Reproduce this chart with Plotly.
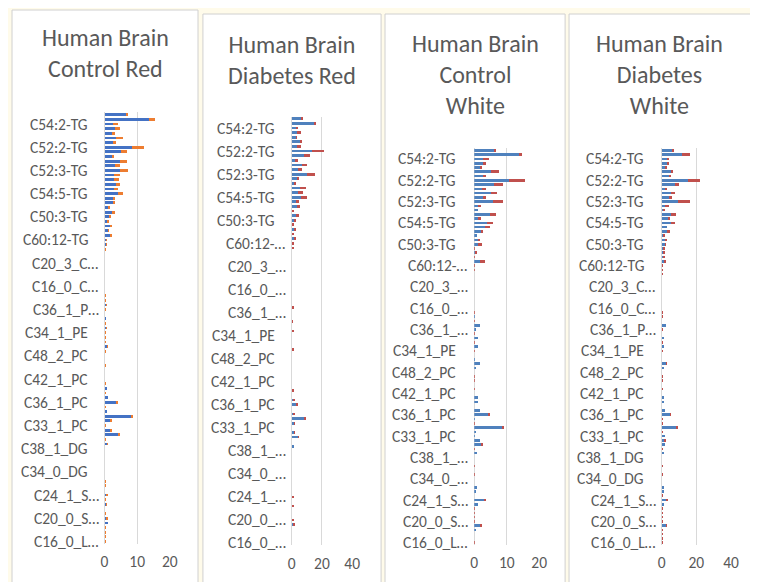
import plotly.graph_objects as go

W, H = 758, 582
OX, OY = 8, 8  # page offset of the figure inside the browser window
FONT = "Calibri, Carlito, Lato, sans-serif"
TXT = "#595959"
GRID = "#D9D9D9"

titles = ["Human Brain<br>Control Red", "Human Brain<br>Diabetes Red",
          "Human Brain<br>Control<br>White", "Human Brain<br>Diabetes<br>White"]

# tick labels, top to bottom (every 5th category is labelled)
labels_p1 = ["C54:2-TG", "C52:2-TG", "C52:3-TG", "C54:5-TG", "C50:3-TG", "C60:12-TG",
             "C20_3_C…", "C16_0_C…", "C36_1_P…", "C34_1_PE", "C48_2_PC", "C42_1_PC",
             "C36_1_PC", "C33_1_PC", "C38_1_DG", "C34_0_DG", "C24_1_S…", "C20_0_S…", "C16_0_L…"]
labels_p2 = ["C54:2-TG", "C52:2-TG", "C52:3-TG", "C54:5-TG", "C50:3-TG", "C60:12-…",
             "C20_3_…", "C16_0_…", "C36_1_…", "C34_1_PE", "C48_2_PC", "C42_1_PC",
             "C36_1_PC", "C33_1_PC", "C38_1_…", "C34_0_…", "C24_1_…", "C20_0_…", "C16_0_…"]
labels_p3 = ["C54:2-TG", "C52:2-TG", "C52:3-TG", "C54:5-TG", "C50:3-TG", "C60:12-…",
             "C20_3_…", "C16_0_…", "C36_1_…", "C34_1_PE", "C48_2_PC", "C42_1_PC",
             "C36_1_PC", "C33_1_PC", "C38_1_…", "C34_0_…", "C24_1_S…", "C20_0_S…", "C16_0_L…"]
labels_p4 = list(labels_p1)

# values, top category first (93 categories)
p1_blue = [6.5, 13.6, 2.5, 3.2, 2.4, 3.6, 2.5, 8.3, 5.1, 2.2,
           4.8, 3.3, 4.8, 3.0, 2.8, 3.5, 2.8, 4.1, 2.5, 2.5,
           1.0, 2.3, 1.3, 0.9, 1.6, 1.0, 1.6, 0.5, 0.5, 0,
           0, 0, 0, 0, 0, 0, 0, 0, 0, 0,
           0, 0.5, 0, 0, 0.3, 0, 0.5, 0, 0, 0,
           0.7, 0, 0, 0, 0, 0, 0, 0, 0, 0.5,
           0, 1.1, 3.4, 0, 0.9, 8.2, 1.7, 0, 1.7, 4.1,
           0, 0.7, 0, 0, 0, 0, 0, 0, 0, 0,
           0, 0, 0.6, 0, 0.5, 0, 0, 0.6, 1.2, 0,
           0, 0, 0]
p1_orange = [0.3, 2.0, 1.5, 1.4, 0.8, 2.1, 1.0, 3.7, 1.8, 0.7,
             2.0, 1.5, 2.4, 1.6, 1.5, 1.1, 1.2, 1.6, 0.7, 0.7,
             0.8, 0.9, 0.5, 0.6, 0.5, 0.2, 0.6, 0.1, 0.1, 0.3,
             0, 0, 0, 0, 0, 0, 0, 0, 0, 0.3,
             0.3, 0.1, 0.3, 0, 0, 0.3, 0.1, 0.3, 0.3, 0.3,
             0.2, 0.3, 0, 0, 0.3, 0, 0, 0, 0.3, 0,
             0.3, 0, 0.6, 0.3, 0, 0.6, 0.4, 0.3, 0.2, 0.3,
             0.3, 0.2, 0, 0, 0, 0, 0, 0, 0, 0.3,
             0.3, 0, 0.3, 0.3, 0.1, 0, 0.3, 0.3, 0, 0.3,
             0.3, 0.3, 0.3]

p2_blue = [6.5, 15.2, 3.3, 3.3, 2.8, 5.4, 3.3, 13.7, 8.0, 2.6,
           7.0, 4.3, 10.2, 3.3, 1.5, 5.4, 4.3, 5.9, 2.6, 3.7,
           0.65, 2.6, 1.5, 0.65, 1.5, 0.65, 1.5, 0, 0, 0,
           0, 0, 0, 0, 0, 0, 0, 0, 0, 0,
           0, 0, 0, 0, 0, 0, 0, 0, 0, 0,
           0, 0, 0, 0, 0, 0, 0, 0, 0, 0,
           0, 0.9, 3.3, 0, 1.1, 8.0, 1.5, 0, 1.5, 4.3,
           0, 0.9, 0, 0, 0, 0, 0, 0, 0, 0,
           0, 0, 0, 0, 0, 0, 0, 0, 0.8, 0,
           0, 0, 0]
p2_red = [0.65, 0.4, 0.6, 2.6, 0.4, 1.5, 2.6, 7.6, 3.9, 1.3,
          3.3, 2.6, 5.4, 1.7, 1.5, 4.3, 3.3, 4.3, 2.4, 1.7,
          1.1, 2.4, 1.1, 0.65, 1.5, 1.1, 1.3, 0.8, 0.8, 0,
          0, 0, 0, 0, 0, 0, 0, 0, 0, 0,
          0, 0.8, 0, 0, 0.6, 0, 0.8, 0, 0, 0,
          0.8, 0, 0, 0, 0, 0, 0, 0, 0, 0.8,
          0, 0.6, 0.6, 0, 0.4, 0.9, 0.4, 0, 0.4, 0.2,
          0, 0, 0, 0, 0, 0, 0, 0, 0, 0,
          0, 0, 0.8, 0, 0.8, 0, 0, 0.8, 0.6, 0,
          0, 0, 0]

p3_blue = [6.4, 13.7, 2.7, 2.7, 2.1, 5.0, 2.7, 10.6, 6.0, 2.4,
           5.0, 2.7, 5.8, 1.3, 1.1, 4.7, 1.1, 4.0, 3.2, 2.1,
           0.7, 1.3, 1.3, 0, 0.6, 0, 1.9, 0, 0, 0,
           0, 0, 0, 0, 0, 0, 0, 0, 0, 0.3,
           0, 1.7, 0.5, 0, 1.0, 0, 1.0, 0, 0, 0.2,
           1.7, 0.5, 0, 0, 0, 0, 0, 0, 1.0, 1.0,
           0, 1.9, 4.4, 0.3, 0, 8.8, 0.4, 0.3, 1.9, 2.4,
           0, 0.8, 0, 0, 0, 0, 0, 0, 0, 0.7,
           0.5, 0, 3.2, 1.1, 0, 0, 0, 0, 2.1, 0.5,
           0, 0, 0]
p3_red = [0.3, 1.1, 1.8, 0.8, 0.3, 2.5, 0.8, 5.0, 2.7, 1.2,
          1.9, 0.8, 2.9, 0.7, 0, 2.0, 0.9, 1.8, 1.7, 0.7,
          0, 0.4, 1.0, 0.3, 0.3, 0.3, 1.3, 0.3, 0.3, 0,
          0, 0, 0, 0, 0, 0, 0, 0, 0.3, 0,
          0.3, 0, 0, 0.3, 0, 0.3, 0, 0.3, 0, 0,
          0, 0, 0, 0.3, 0.3, 0, 0.3, 0, 0, 0,
          0, 0, 0.3, 0, 0.3, 0.3, 0, 0, 0, 0.3,
          0.3, 0, 0, 0, 0.3, 0, 0.3, 0, 0, 0,
          0, 0, 0.4, 0, 0.3, 0.3, 0.3, 0.3, 0.2, 0,
          0, 0, 0.3]

p4_blue = [5.8, 11.5, 3.4, 3.4, 2.1, 5.3, 4.0, 15.3, 7.7, 2.1,
           5.3, 4.0, 9.6, 2.1, 1.1, 5.3, 4.0, 5.3, 3.4, 3.0,
           1.1, 1.9, 1.9, 0.8, 1.1, 0.8, 1.7, 0, 0, 0,
           0, 0, 0, 0, 0, 0, 0, 0, 0, 0,
           0, 2.3, 0, 0, 1.1, 0, 0.9, 0, 0, 0,
           2.3, 0.8, 0, 0, 0, 0, 0, 0, 1.1, 1.1,
           0, 1.9, 4.7, 0, 0, 8.1, 0, 1.7, 1.5, 1.7,
           0, 1.1, 0, 0, 0, 0, 0, 0, 0, 0.8,
           0.8, 0, 2.8, 0.8, 0, 0, 0, 0, 2.3, 0,
           0, 0, 0]
p4_red = [1.1, 4.7, 0.8, 0.8, 0.4, 1.5, 1.5, 6.6, 2.5, 0.8,
          2.5, 2.1, 7.0, 1.9, 0.2, 3.0, 0.2, 2.5, 0, 1.9,
          0.2, 0.8, 0.2, 0.4, 0.6, 0.4, 0.4, 0.4, 0.4, 0.4,
          0, 0, 0, 0, 0, 0, 0, 0, 0.4, 0.4,
          0, 0, 0.4, 0, 0, 0.4, 0, 0.4, 0, 0,
          0.2, 0, 0, 0.4, 0.4, 0, 0.4, 0, 0, 0,
          0, 0, 0.4, 0.4, 0.4, 0.6, 0.4, 0, 0.9, 0,
          0.4, 0, 0, 0, 0.4, 0, 0.4, 0, 0, 0,
          0, 0.4, 0.6, 0, 0.4, 0.4, 0.4, 0.4, 0.4, 0.4,
          0.4, 0.4, 0.4]

# layout in window pixels (style only)
panels = [
    dict(blue=p1_blue, red=p1_orange, labels=labels_p1, cb="#4472C4", cr="#ED7D31",
         xmax=20, dtick=10, box=(8, 197, 10), xp=(102, 168.3), yp=(112.4, 543.8),
         ty=53, gap=15),
    dict(blue=p2_blue, red=p2_red, labels=labels_p2, cb="#4F81BD", cr="#C0504D",
         xmax=40, dtick=20, box=(202, 383, 14), xp=(292.2, 353.6), yp=(116.5, 545.3),
         ty=60, gap=15),
    dict(blue=p3_blue, red=p3_red, labels=labels_p3, cb="#4F81BD", cr="#C0504D",
         xmax=20, dtick=10, box=(387, 570, 14), xp=(477.7, 543.7), yp=(148.3, 544.8),
         ty=74, gap=16),
    dict(blue=p4_blue, red=p4_red, labels=labels_p4, cb="#4F81BD", cr="#C0504D",
         xmax=40, dtick=20, box=(574, 762, 14), xp=(668, 738.6), yp=(148.3, 544.8),
         ty=74, gap=16),
]


def px(x):
    return (x - OX) / W


def py(y):
    return 1 - (y - OY) / H


fig = go.Figure()
shapes, annotations = [], []
layout = {}
for i, p in enumerate(panels):
    sfx = "" if i == 0 else str(i + 1)
    n = len(p["blue"])
    pos = list(range(n))
    for vals, col in ((p["blue"], p["cb"]), (p["red"], p["cr"])):
        fig.add_trace(go.Bar(x=vals, y=pos, orientation="h", marker=dict(color=col, line=dict(width=0)),
                             xaxis="x" + sfx, yaxis="y" + sfx, showlegend=False, hoverinfo="skip"))
    x0, x1, top = p["box"]
    shapes.append(dict(type="rect", xref="paper", yref="paper", x0=px(x0), x1=px(x1),
                       y0=-0.1, y1=py(top), fillcolor="white",
                       line=dict(color="#D0D0D0", width=1), layer="below"))
    annotations.append(dict(text=titles[i], xref="paper", yref="paper", x=px((x0 + min(x1, 758)) / 2),
                            y=py(p["ty"]), xanchor="center", yanchor="middle", showarrow=False,
                            font=dict(family=FONT, size=24, color=TXT)))
    for k, lab in enumerate(p["labels"]):
        shift = -4 if lab.endswith("…") else -p["gap"]
        annotations.append(dict(text=lab, xref="x" + sfx + " domain", yref="y" + sfx, x=0, y=2 + 5 * k,
                                xanchor="right", yanchor="middle", xshift=shift, showarrow=False,
                                font=dict(family=FONT, size=15.5, color=TXT)))
    layout["xaxis" + sfx] = dict(domain=[px(p["xp"][0]), px(p["xp"][1])], range=[0, p["xmax"]],
                                 tickvals=list(range(0, p["xmax"] + 1, p["dtick"])),
                                 showgrid=True, gridcolor=GRID, gridwidth=1,
                                 zeroline=True, zerolinecolor=GRID, zerolinewidth=1,
                                 showline=False, ticks="", ticklabelstandoff=7,
                                 tickfont=dict(family=FONT, size=15.5, color=TXT),
                                 anchor="y" + sfx, fixedrange=True)
    layout["yaxis" + sfx] = dict(domain=[py(p["yp"][1]), py(p["yp"][0])],
                                 range=[n - 0.5, -0.5], showticklabels=False, showgrid=False,
                                 zeroline=False, showline=False, ticks="",
                                 anchor="x" + sfx, fixedrange=True)

fig.update_layout(**layout)
fig.update_layout(width=W, height=H, margin=dict(l=0, r=0, t=0, b=0),
                  paper_bgcolor="#FFFBEA", plot_bgcolor="rgba(0,0,0,0)",
                  barmode="stack", bargap=0.4, shapes=shapes, annotations=annotations,
                  font=dict(family=FONT, color=TXT))
fig.write_html("out.html")
